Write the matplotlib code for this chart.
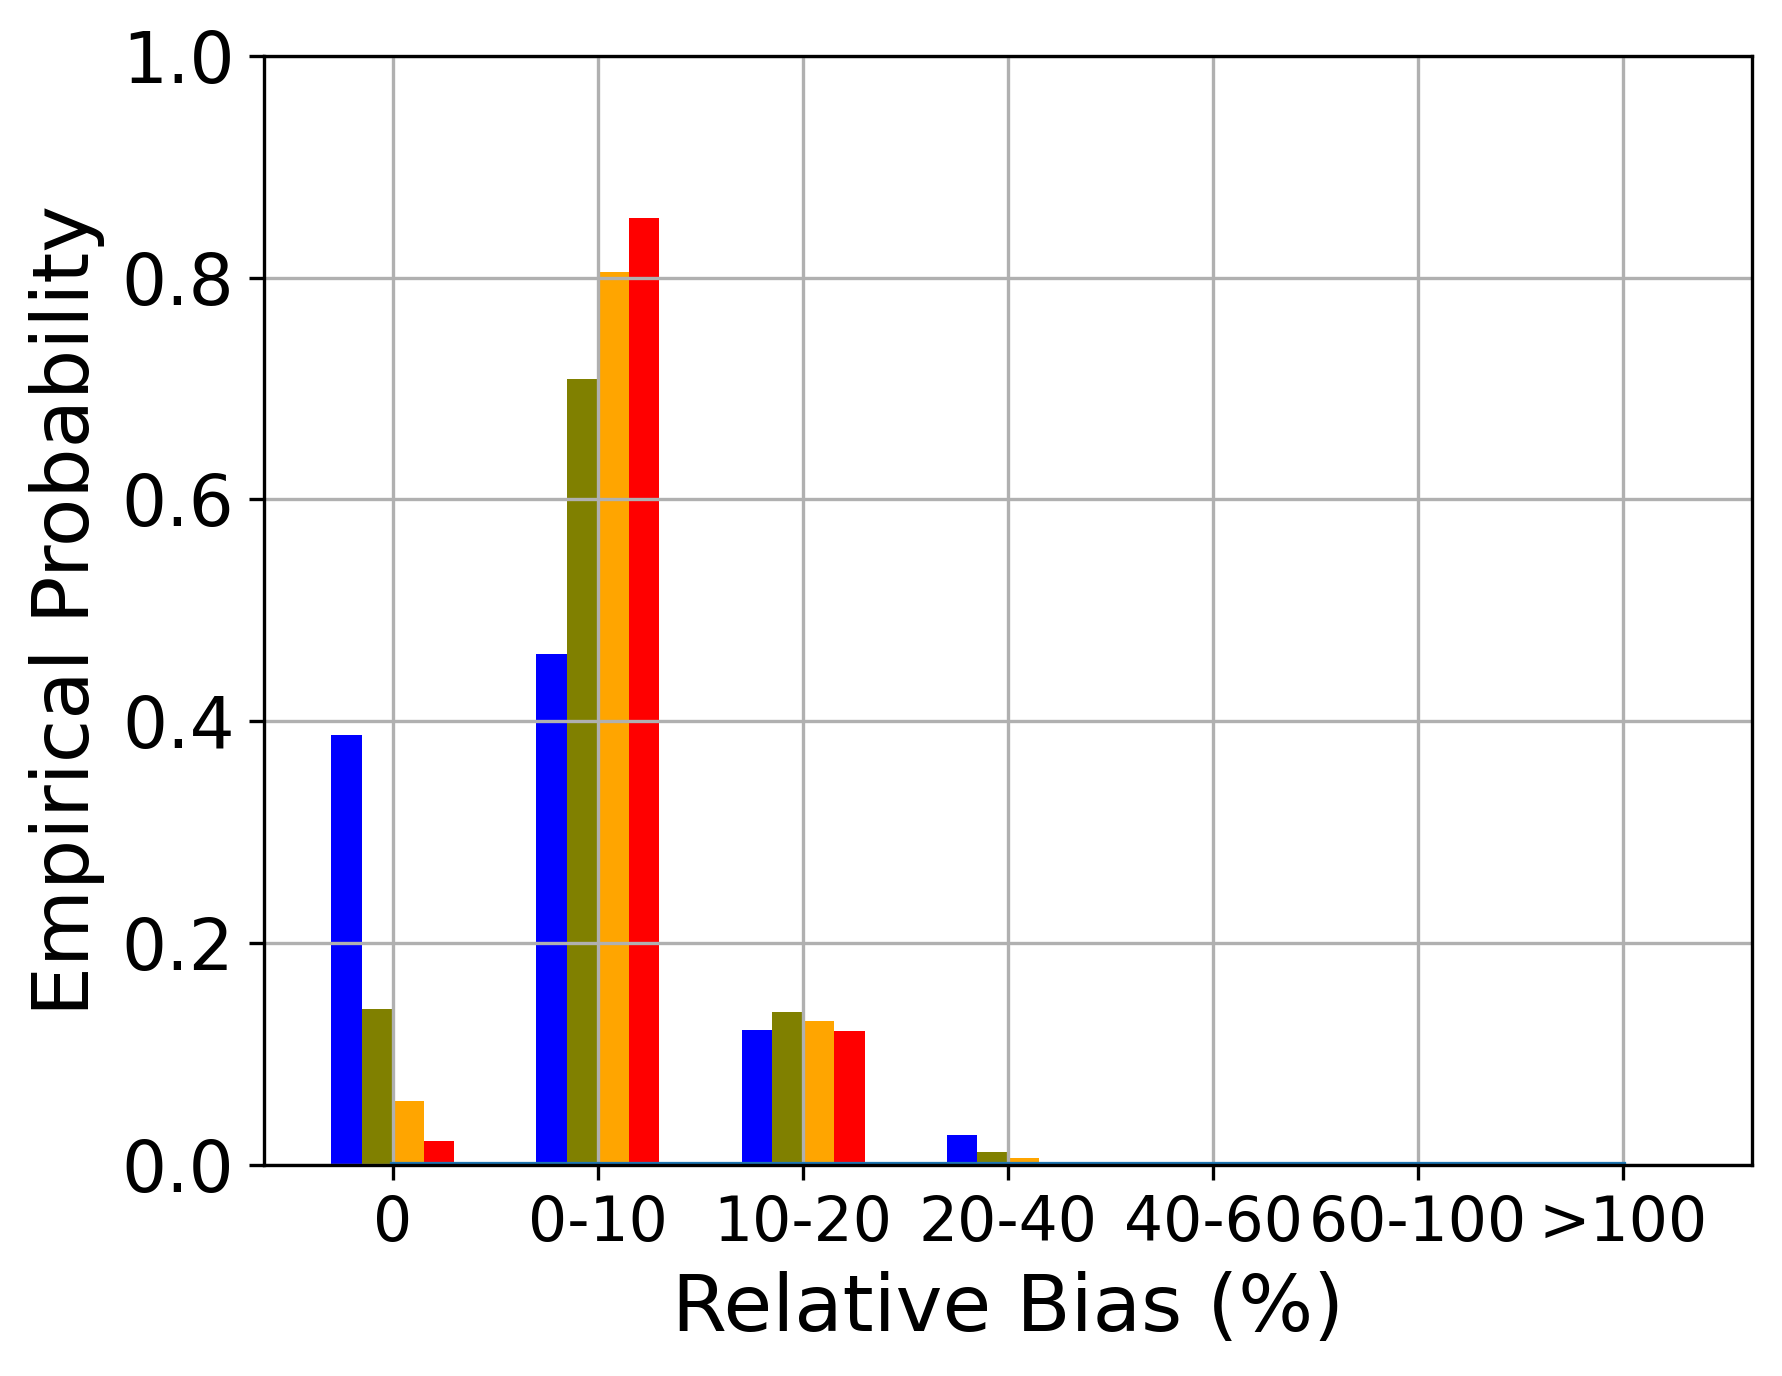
import matplotlib
matplotlib.use("Agg")
import matplotlib.pyplot as plt
import numpy as np

categories = ["0", "0-10", "10-20", "20-40", "40-60", "60-100", ">100"]
blue_vals = [0.388, 0.461, 0.122, 0.027, 0.0, 0.0, 0.0]
olive_vals = [0.141, 0.709, 0.138, 0.012, 0.0, 0.0, 0.0]
orange_vals = [0.058, 0.805, 0.130, 0.006, 0.0, 0.0, 0.0]
red_vals = [0.0215, 0.854, 0.121, 0.0015, 0.0, 0.0, 0.0]
baseline_vals = [0.0, 0.0, 0.0, 0.0, 0.0, 0.0, 0.0]
yticks = [0.0, 0.2, 0.4, 0.6, 0.8, 1.0]

fig = plt.figure(figsize=(1782/300, 1376/300), dpi=300)
ax = fig.add_axes([0.148, 0.1534, 0.8354, 0.8061])

x = np.arange(len(categories))
w = 0.15
ax.bar(x - 2*w, blue_vals, width=w, align="edge", color="blue")
ax.bar(x - w, olive_vals, width=w, align="edge", color="olive")
ax.bar(x, orange_vals, width=w, align="edge", color="orange")
ax.bar(x + w, red_vals, width=w, align="edge", color="red")
ax.plot(x, baseline_vals, color="#1f77b4")

ax.set_ylim(0, 1.0)
ax.set_yticks(yticks)
ax.set_xticks(x)
ax.set_xticklabels(categories, fontsize=14.8)
ax.tick_params(axis="y", labelsize=17)
ax.grid(True)
ax.set_xlabel("Relative Bias (%)", fontsize=19)
ax.set_ylabel("Empirical Probability", fontsize=19)

fig.savefig("out.png", dpi=300)
